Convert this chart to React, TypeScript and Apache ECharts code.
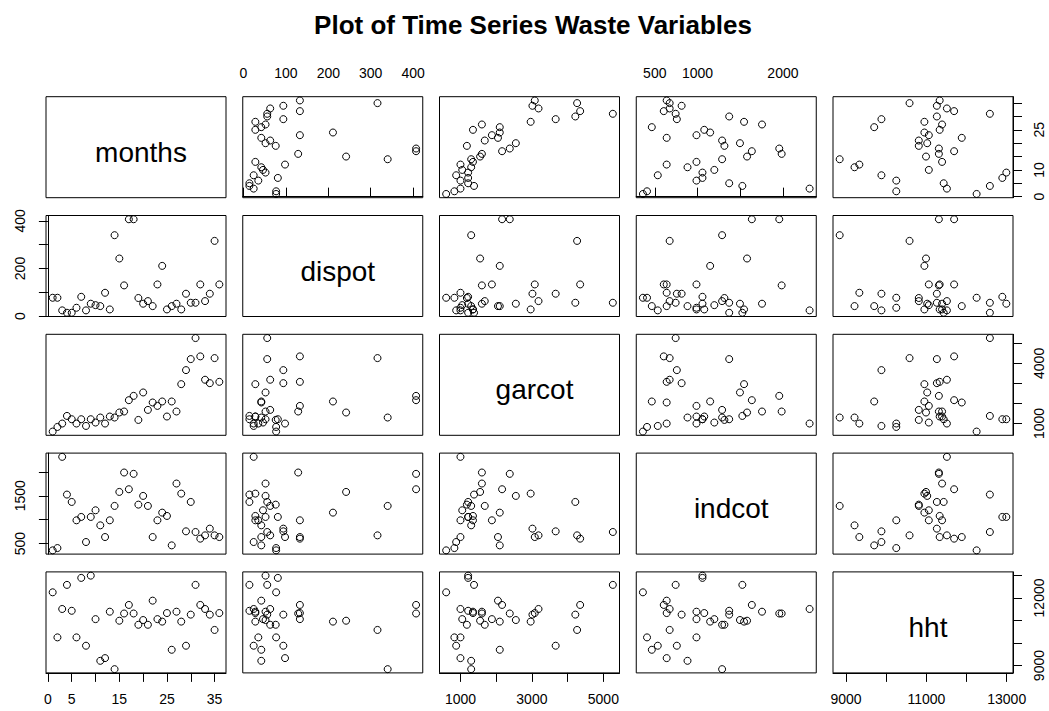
import React, { useEffect, useRef } from "react";
import * as echarts from "echarts";

const titleText = "Plot of Time Series Waste Variables";
const varNames = ["months", "dispot", "garcot", "indcot", "hht"];

const months = [1, 2, 3, 4, 5, 6, 7, 8, 9, 10, 11, 12, 13, 14, 15, 16, 17, 18, 19, 20, 21, 22, 23, 24, 25, 26, 27, 28, 29, 30, 31, 32, 33, 34, 35, 36];
const dispot = [77, 77, 24, 14, 14, 35, 81, 24, 52, 46, 42, 98, 28, 340, 242, 129, 407, 407, 76, 52, 63, 42, 133, 211, 28, 42, 52, 28, 94, 56, 56, 133, 63, 94, 316, 133];
const garcot = [600, 830, 1000, 1380, 1215, 1000, 1215, 880, 1215, 1050, 1300, 1000, 1350, 1300, 1550, 1600, 2165, 2380, 1180, 2550, 1680, 2050, 1880, 2100, 1350, 2100, 1600, 2965, 3665, 4215, 5265, 4350, 3185, 3015, 4265, 3080];
const indcot = [361, 409, 2312, 1525, 1371, 988, 1058, 535, 1058, 1197, 883, 639, 988, 1288, 1580, 1985, 1636, 1957, 1315, 1497, 1288, 639, 988, 1148, 1079, 465, 1755, 1545, 758, 1371, 744, 605, 674, 814, 674, 639];
const hht = [12250, 10250, 11510, 12580, 11430, 10250, 12890, 9880, 12990, 11060, 9210, 9330, 11390, 8840, 10990, 11310, 11690, 11310, 10810, 11020, 10810, 11880, 11060, 10950, 11330, 9700, 11390, 10950, 9880, 11260, 12580, 11690, 11510, 11260, 10580, 11330];

const monthsTicks = [0, 5, 10, 15, 20, 25, 30, 35];
const monthsBottomLabels = [0, 5, 15, 25, 35];
const monthsRightLabels = [0, 10, 25];
const dispotTicks = [0, 100, 200, 300, 400];
const dispotTopLabels = [0, 100, 200, 300, 400];
const dispotLeftLabels = [0, 200, 400];
const garcotTicks = [1000, 2000, 3000, 4000, 5000];
const garcotBottomLabels = [1000, 3000, 5000];
const garcotRightLabels = [1000, 4000];
const indcotTicks = [500, 1000, 1500, 2000];
const indcotTopLabels = [500, 1000, 2000];
const indcotLeftLabels = [500, 1500];
const hhtTicks = [9000, 10000, 11000, 12000, 13000];
const hhtBottomLabels = [9000, 11000, 13000];
const hhtRightLabels = [9000, 12000];

const FONT = "'Liberation Sans', Arial, Helvetica, sans-serif";

export default function App() {
  const ref = useRef<HTMLDivElement>(null);

  useEffect(() => {
    document.body.style.margin = "0";
    if (!ref.current) return;
    const chart = echarts.init(ref.current, undefined, { renderer: "svg" });

    const vars = [months, dispot, garcot, indcot, hht];
    const ticks = [monthsTicks, dispotTicks, garcotTicks, indcotTicks, hhtTicks];
    const xLabels: Record<string, (number[] | null)[]> = {
      top: [null, dispotTopLabels, null, indcotTopLabels, null],
      bottom: [monthsBottomLabels, null, garcotBottomLabels, null, hhtBottomLabels],
    };
    const yLabels: Record<string, (number[] | null)[]> = {
      left: [null, dispotLeftLabels, null, indcotLeftLabels, null],
      right: [monthsRightLabels, null, garcotRightLabels, null, hhtRightLabels],
    };
    const ranges = vars.map((v) => {
      const mn = Math.min(...v);
      const mx = Math.max(...v);
      const pad = (mx - mn) * 0.04;
      return [mn - pad, mx + pad];
    });

    const L0 = 46, CS = 196.75, PW = 180, T0 = 96.7, RS = 118.8, PH = 101;
    const plain = (v: number) => String(Math.round(v));

    const grids: any[] = [];
    const xAxes: any[] = [];
    const yAxes: any[] = [];
    const series: any[] = [];
    const titles: any[] = [
      {
        text: titleText,
        left: 528,
        top: 20,
        textAlign: "center",
        textVerticalAlign: "middle",
        textStyle: { fontFamily: FONT, fontSize: 26, fontWeight: "bold", color: "#000" },
      },
    ];

    for (let r = 0; r < 5; r++) {
      for (let c = 0; c < 5; c++) {
        const idx = r * 5 + c;
        grids.push({
          left: L0 + c * CS,
          top: T0 + r * RS,
          width: PW,
          height: PH,
          show: true,
          borderColor: "#000",
          borderWidth: 1,
          backgroundColor: "rgba(0,0,0,0)",
        });
        let xPos: string | null = null;
        if (r === 0 && xLabels.top[c]) xPos = "top";
        if (r === 4 && xLabels.bottom[c]) xPos = "bottom";
        let yPos: string | null = null;
        if (c === 0 && yLabels.left[r]) yPos = "left";
        if (c === 4 && yLabels.right[r]) yPos = "right";

        xAxes.push({
          gridIndex: idx,
          type: "value",
          min: ranges[c][0],
          max: ranges[c][1],
          position: xPos || "bottom",
          axisLine: { show: !!xPos, lineStyle: { color: "#000", width: 1 } },
          axisTick: { show: !!xPos, length: 9, customValues: ticks[c], lineStyle: { color: "#000" } },
          axisLabel: {
            show: !!xPos,
            customValues: xPos ? (xLabels as any)[xPos][c] : undefined,
            formatter: plain,
            margin: xPos === "top" ? 17 : 19,
            fontSize: 14,
            fontFamily: FONT,
            color: "#000",
          },
          splitLine: { show: false },
        });
        yAxes.push({
          gridIndex: idx,
          type: "value",
          min: ranges[r][0],
          max: ranges[r][1],
          position: yPos || "left",
          axisLine: { show: !!yPos, lineStyle: { color: "#000", width: 1 } },
          axisTick: { show: !!yPos, length: 9, customValues: ticks[r], lineStyle: { color: "#000" } },
          axisLabel: {
            show: !!yPos,
            customValues: yPos ? (yLabels as any)[yPos][r] : undefined,
            formatter: plain,
            rotate: 90,
            margin: 19,
            fontSize: 14,
            fontFamily: FONT,
            color: "#000",
          },
          splitLine: { show: false },
        });

        if (r === c) {
          titles.push({
            text: varNames[r],
            left: L0 + c * CS + PW / 2,
            top: T0 + r * RS + PH / 2,
            textAlign: "center",
            textVerticalAlign: "middle",
            textStyle: { fontFamily: FONT, fontSize: 28, fontWeight: "normal", color: "#000" },
          });
        } else {
          series.push({
            type: "scatter",
            xAxisIndex: idx,
            yAxisIndex: idx,
            data: vars[c].map((v, i) => [v, vars[r][i]]),
            symbol: "circle",
            symbolSize: 7,
            itemStyle: { color: "rgba(0,0,0,0)", borderColor: "#000", borderWidth: 1, opacity: 1 },
            silent: true,
          });
        }
      }
    }

    chart.setOption({
      animation: false,
      backgroundColor: "#fff",
      title: titles,
      grid: grids,
      xAxis: xAxes,
      yAxis: yAxes,
      series,
    });

    return () => chart.dispose();
  }, []);

  return <div ref={ref} style={{ width: 1049, height: 711 }} />;
}
